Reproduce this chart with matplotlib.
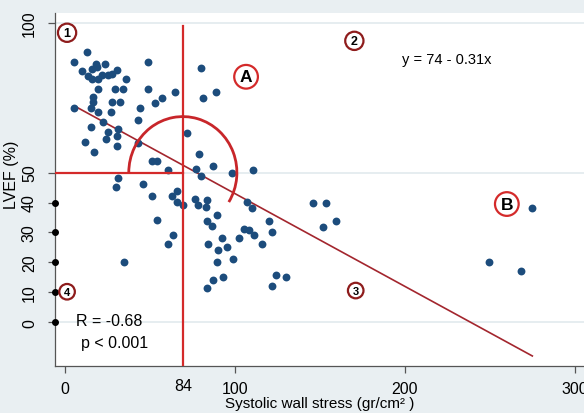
import numpy as np
import matplotlib
matplotlib.use("Agg")
import matplotlib.pyplot as plt
from matplotlib.patches import Arc

plt.rcParams["font.family"] = ["Liberation Sans", "DejaVu Sans"]

# systolic wall stress (gr/cm2) and LVEF (%)
stress = [13.1, 5.6, 18.2, 23.6, 9.9, 16.2, 18.8, 30.5, 27.6, 25.6, 21.7, 13.8,
          15.8, 19.7, 35.8, 19.4, 29.5, 34.4, 49.1, 49.1, 64.8, 16.8, 16.8, 27.9,
          32.5, 57.0, 53.1, 5.6, 15.4, 19.4, 27.0, 44.2, 43.2, 22.6, 15.4, 31.5,
          25.2, 24.1, 30.5, 11.9, 30.5, 17.2, 42.9, 51.1, 54.1, 60.5, 31.5, 29.9,
          46.0, 51.5, 62.9, 54.1, 60.9, 63.8, 35.0, 80.1, 81.5, 88.8, 71.7, 78.9,
          77.0, 87.0, 80.1, 98.2, 110.5, 65.8, 65.8, 69.4, 76.6, 78.5, 83.5, 83.1,
          89.4, 83.5, 86.4, 107.0, 110.3, 120.1, 121.7, 105.4, 108.5, 111.5, 102.5,
          115.8, 92.3, 84.1, 95.6, 89.9, 89.4, 99.1, 87.0, 83.5, 93.2, 124.2, 130.1,
          121.7, 146.2, 153.5, 152.1, 159.5, 275.0, 249.5, 268.4]
lvef = [90.2, 87.1, 86.3, 86.2, 84.0, 84.6, 85.2, 84.1, 83.0, 82.6, 82.6, 82.4,
        81.1, 81.3, 81.1, 77.9, 77.9, 77.9, 87.1, 77.9, 76.9, 75.2, 73.5, 73.5,
        73.5, 74.8, 73.3, 71.6, 71.6, 70.4, 70.4, 71.6, 67.4, 67.0, 65.2, 64.6,
        63.5, 61.2, 62.1, 60.1, 59.0, 56.8, 59.9, 54.0, 54.0, 51.0, 48.1, 45.1,
        46.2, 42.1, 42.1, 34.2, 26.1, 29.2, 20.0, 85.0, 74.8, 77.0, 63.2, 56.2,
        51.2, 52.1, 49.0, 49.9, 51.0, 44.0, 40.1, 39.3, 41.2, 39.3, 41.0, 38.4,
        36.0, 33.7, 32.1, 40.1, 38.1, 33.9, 30.3, 31.2, 30.9, 29.3, 28.2,
        26.2, 28.1, 26.2, 25.1, 24.2, 20.0, 21.1, 14.1, 11.4, 15.0, 15.9, 15.0,
        12.2, 39.9, 39.9, 31.9, 33.9, 38.1, 20.0, 17.0]

intercept, slope = 74, -0.31
fit_x = [6, 275]
cut_x, cut_y = 69.4, 50          # red cross lines (labelled 84 / 50)
xticks = [0, 100, 200, 300]
yticks = [0, 10, 20, 30, 40, 50, 100]
dot_ticks = [0, 10, 20, 30, 40]

fig = plt.figure(figsize=(5.84, 4.14), dpi=100)
fig.patch.set_facecolor("#e9eff2")
ax = fig.add_axes([55 / 584, 47 / 414, 529 / 584, 353 / 414])
ax.set_facecolor("white")
ax.set_xlim(-5.8, 305.4)
ax.set_ylim(-14.6, 103.3)

for g in [0, 50, 100]:
    ax.axhline(g, color="#e2eaee", lw=1.2, zorder=0)

for s in ["top", "right"]:
    ax.spines[s].set_visible(False)
for s in ["left", "bottom"]:
    ax.spines[s].set_color("#555555")
    ax.spines[s].set_linewidth(0.9)

ax.scatter(stress, lvef, s=32, color="#1c4c7c", zorder=3, linewidths=0)

fx = np.array(fit_x)
ax.plot(fx, intercept + slope * fx, color="#a3262e", lw=1.2, zorder=2)

red = "#d42a2a"
ax.plot([cut_x, cut_x], [-14.6, 98.8], color=red, lw=1.6, zorder=4)
ax.plot([-5.8, cut_x], [cut_y, cut_y], color=red, lw=1.6, zorder=4)
ax.add_patch(Arc((cut_x, cut_y), 63.6, 37.4, theta1=-20, theta2=180,
                 color="#c8262a", lw=2, zorder=4))

ax.set_xticks(xticks)
ax.set_xticklabels([str(v) for v in xticks])
ax.set_yticks(yticks)
ax.set_yticklabels([str(v) for v in yticks], rotation=90, va="center")
ax.tick_params(axis="both", colors="#555555", labelcolor="black",
               labelsize=11.5, length=5, width=0.9)
ax.tick_params(axis="x", pad=6)
ax.tick_params(axis="y", pad=8)
ax.scatter([-5.8] * len(dot_ticks), dot_ticks, s=16, color="black",
           clip_on=False, zorder=5)

ax.text(cut_x, -21.0, "84", ha="center", va="center", fontsize=11.5,
        clip_on=False)

ax.set_xlabel("Systolic wall stress (gr/cm\u00b2 )", fontsize=11, labelpad=0)
ax.set_ylabel("LVEF (%)", fontsize=11.5)
ax.yaxis.set_label_coords(-0.068, 0.544)

ax.text(224.6, 88.0, "y = 74 - 0.31x", fontsize=10.5, ha="center", va="center")
ax.text(6.6, 0.5, "R = -0.68", fontsize=11.5, ha="left", va="center")
ax.text(9.5, -6.6, "p < 0.001", fontsize=11.5, ha="left", va="center")

marks = [("1", 1.3, 96.7, "#8e1c1c", 9), ("2", 170.3, 94.0, "#8e1c1c", 9),
         ("3", 171.1, 10.6, "#8e1c1c", 8), ("4", 1.3, 10.2, "#8e1c1c", 8),
         ("A", 106.6, 82.0, "#d42a2a", 12.5), ("B", 260.0, 39.5, "#d42a2a", 12.5)]
for lab, mx, my, col, fs in marks:
    ax.text(mx, my, lab, fontsize=fs, fontweight="bold", ha="center", va="center",
            zorder=6, bbox=dict(boxstyle="circle,pad=0.25", fc="white", ec=col, lw=1.6))

fig.savefig("out.png", dpi=100, facecolor=fig.get_facecolor())
